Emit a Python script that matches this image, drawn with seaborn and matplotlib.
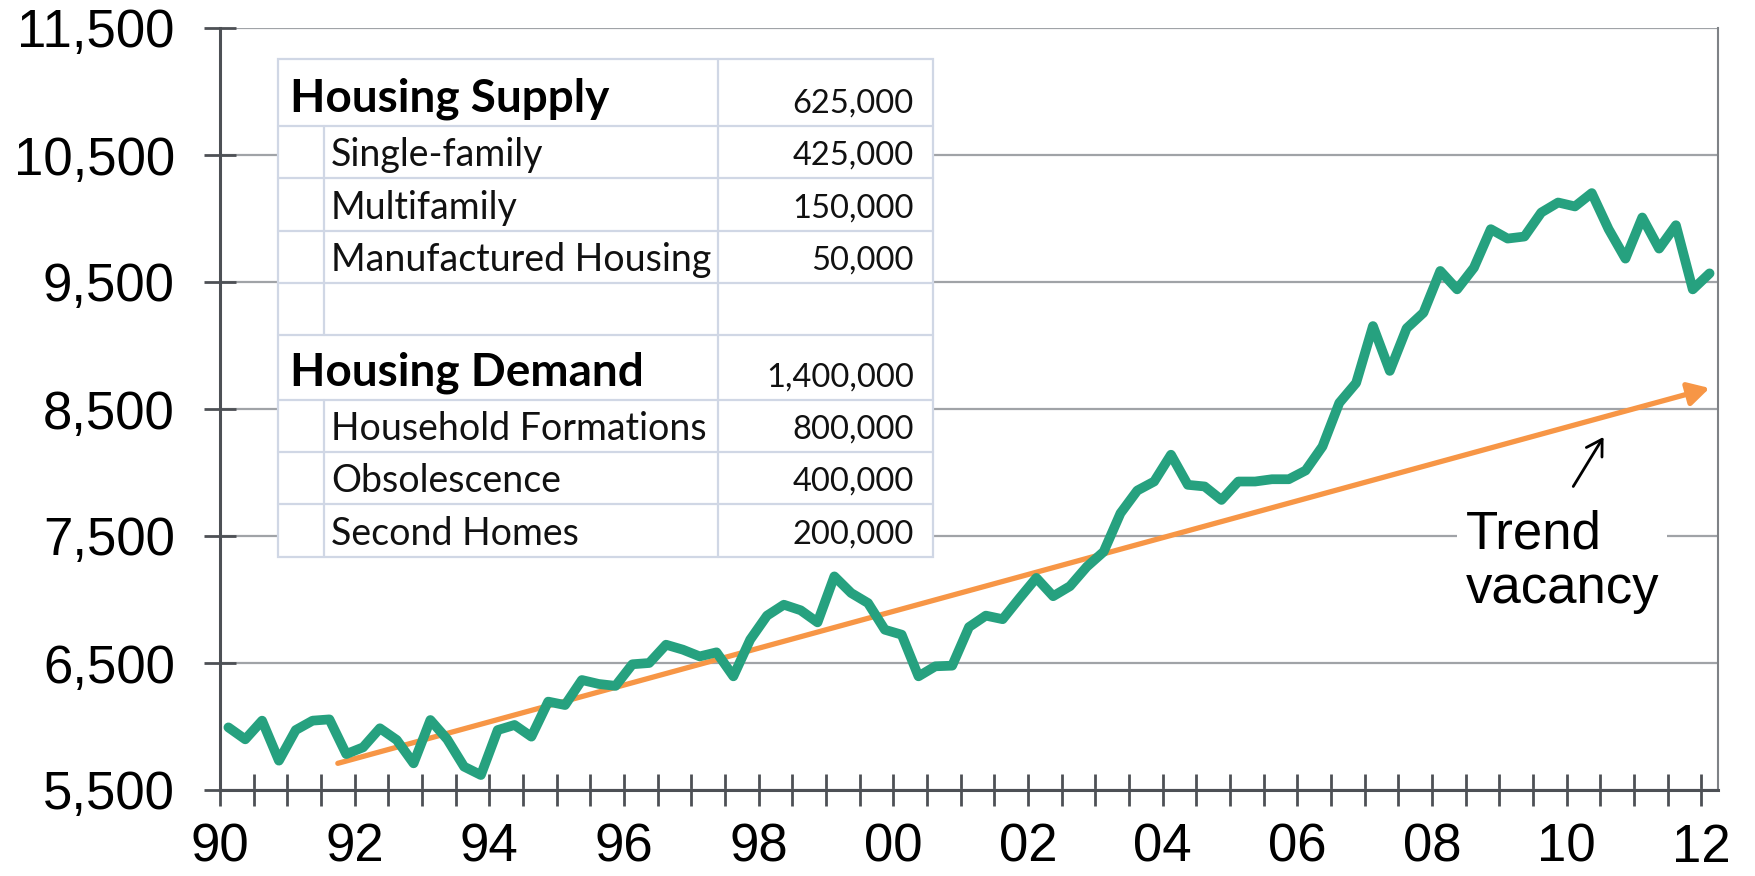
import numpy as np
import pandas as pd
import seaborn as sns
import matplotlib.pyplot as plt
from matplotlib.ticker import MultipleLocator, FuncFormatter
from matplotlib.patches import Rectangle

# quarterly series 1990Q1 .. 2012Q1
vacancy = [5993, 5899, 6046, 5731, 5972, 6046, 6056, 5783,
           5836, 5986, 5894, 5710, 6051, 5899, 5684, 5618,
           5972, 6012, 5920, 6196, 6169, 6366, 6335, 6320,
           6490, 6500, 6644, 6605, 6552, 6584, 6395, 6684,
           6873, 6959, 6915, 6820, 7182, 7051, 6972, 6762,
           6723, 6395, 6474, 6479, 6783, 6873, 6845, 7010,
           7170, 7026, 7105, 7258, 7376, 7679, 7858, 7929,
           8140, 7903, 7890, 7784, 7929, 7929, 7947, 7947,
           8016, 8205, 8548, 8705, 9153, 8800, 9135, 9258,
           9587, 9442, 9613, 9916, 9842, 9858, 10047, 10126,
           10095, 10200, 9916, 9684, 10008, 9763, 9947, 9442,
           9568]
start_year = 1990

trend_x = [1991.75, 2012.125]
trend_y = [5710, 8665]

y_ticks = [5500, 6500, 7500, 8500, 9500, 10500, 11500]

table_labels = ["Housing Supply", "Single-family", "Multifamily", "Manufactured Housing", "",
                "Housing Demand", "Household Formations", "Obsolescence", "Second Homes"]
table_values = [625000, 425000, 150000, 50000, None,
                1400000, 800000, 400000, 200000]
header_rows = [0, 5]

green = "#26a17f"
orange = "#f79646"

sns.set_theme(style="white")
plt.rcParams["font.family"] = ["Liberation Sans", "DejaVu Sans"]

df = pd.DataFrame({"year": start_year + 0.125 + 0.25 * np.arange(len(vacancy)),
                   "vacancy": vacancy})

fig = plt.figure(figsize=(17.56, 8.76), dpi=100)
ax = fig.add_axes([220 / 1756, 1 - 790 / 876, 1498 / 1756, 762 / 876])

sns.lineplot(data=df, x="year", y="vacancy", ax=ax, color=green, lw=7,
             solid_joinstyle="round", solid_capstyle="round", zorder=4)

ax.annotate("", xy=(trend_x[1], trend_y[1]), xytext=(trend_x[0], trend_y[0]),
            arrowprops=dict(arrowstyle="-|>,head_length=0.45,head_width=0.25",
                            color=orange, lw=3.8, mutation_scale=28,
                            shrinkA=0, shrinkB=0), zorder=3)

ax.set_xlim(1990, 2012.25)
ax.set_ylim(5500, 11500)
ax.set_yticks(y_ticks)
ax.yaxis.set_major_formatter(FuncFormatter(lambda v, p: f"{int(v):,}"))
ax.xaxis.set_major_locator(MultipleLocator(0.5))
ax.xaxis.set_major_formatter(FuncFormatter(
    lambda v, p: f"{int(round(v)) % 100:02d}" if abs(v - round(v)) < 1e-6 and int(round(v)) % 2 == 0 else ""))
ax.set_xlabel("")
ax.set_ylabel("")

ax.tick_params(axis="both", direction="inout", length=23, width=2,
               color="#4d5055", labelsize=38, labelcolor="black",
               bottom=True, left=True)
ax.tick_params(axis="y", pad=21)
ax.tick_params(axis="x", pad=12)

ax.yaxis.grid(True, color="#a0a3a7", lw=1.6)
ax.set_axisbelow(True)
for side in ["left", "bottom"]:
    ax.spines[side].set_color("#4d5055")
    ax.spines[side].set_linewidth(2.2)
ax.spines["right"].set_color("#7f8286")
ax.spines["right"].set_linewidth(1.5)
ax.spines["top"].set_visible(False)

ax.text(2008.5, 7705, "Trend\nvacancy", fontsize=38, ha="left", va="top",
        linespacing=1.1, zorder=5, color="black",
        bbox=dict(facecolor="white", edgecolor="none", pad=6))
ax.annotate("", xy=(2010.55, 8280), xytext=(2010.1, 7890),
            arrowprops=dict(arrowstyle="->,head_length=0.5,head_width=0.3",
                            color="black", lw=2, mutation_scale=22,
                            shrinkA=0, shrinkB=0), zorder=5)

# summary table, drawn in pixel space over the chart
tab = fig.add_axes([0, 0, 1, 1])
tab.set_xlim(0, 1756)
tab.set_ylim(876, 0)
tab.axis("off")

row_edges = [59, 126, 178, 231, 283, 335, 400, 452, 504, 557]
left, indent, divider, right = 278, 324, 718, 933
line_col = "#d0d7e5"
tab.add_patch(Rectangle((left, row_edges[0]), right - left, row_edges[-1] - row_edges[0],
                        facecolor="white", edgecolor=line_col, lw=1.6))
for y in row_edges[1:-1]:
    tab.plot([left, right], [y, y], color=line_col, lw=1.6)
tab.plot([divider, divider], [row_edges[0], row_edges[-1]], color=line_col, lw=1.6)
tab.plot([indent, indent], [row_edges[1], row_edges[5]], color=line_col, lw=1.6)
tab.plot([indent, indent], [row_edges[6], row_edges[9]], color=line_col, lw=1.6)

for i, (lab, val) in enumerate(zip(table_labels, table_values)):
    bottom = row_edges[i + 1]
    if i in header_rows:
        tab.text(290, bottom - 15, lab, fontsize=33, fontweight="bold",
                 family="Lato", ha="left", va="baseline", color="black")
    else:
        tab.text(331, bottom - 12, lab, fontsize=27, family="Lato",
                 ha="left", va="baseline", color="#111111")
    if val is not None:
        tab.text(914, bottom - 13, f"{val:,}", fontsize=23.5, family="Lato",
                 ha="right", va="baseline", color="#111111")

fig.savefig("out.png", dpi=100)
